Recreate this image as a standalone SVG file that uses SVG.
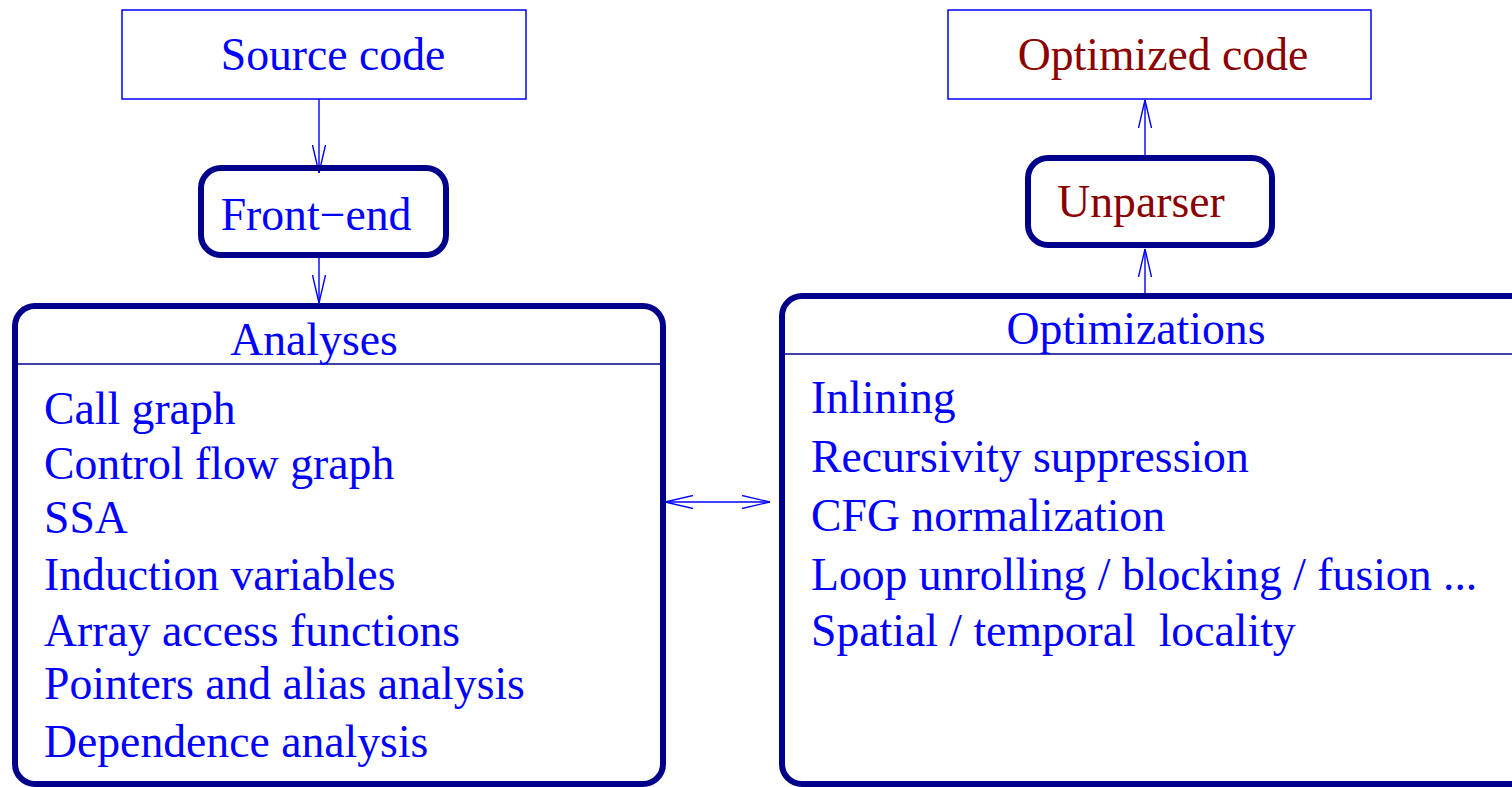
<svg xmlns="http://www.w3.org/2000/svg" width="1512" height="787" viewBox="0 0 1512 787">
<defs>
<style>
.t{font-family:"Liberation Serif","Times New Roman",serif;font-size:45.7px;fill:#0000ff;white-space:pre}
.r{fill:#8b0000}
.m{text-anchor:middle}
.thin{fill:none;stroke:#0000ff;stroke-width:1.5}
.thick{fill:none;stroke:#00008b;stroke-width:6}
.sep{stroke:#00008b;stroke-width:1.6}
.c{fill:none;stroke:#0000ff;stroke-width:1.4}
</style>
<marker id="ah" viewBox="0 0 28 14" refX="28" refY="7" markerWidth="28" markerHeight="14" markerUnits="userSpaceOnUse" orient="auto-start-reverse">
<path d="M0,0.5 L28,7 L0,13.5" fill="none" stroke="#0000ff" stroke-width="1.4"/>
</marker>
</defs>
<rect width="1512" height="787" fill="#ffffff"/>
<g id="connectors">
<line class="c" x1="319" y1="99" x2="319" y2="173" marker-end="url(#ah)"/>
<line class="c" x1="319" y1="258" x2="319" y2="303" marker-end="url(#ah)"/>
<line class="c" x1="1145" y1="293" x2="1145" y2="249" marker-end="url(#ah)"/>
<line class="c" x1="1145" y1="155" x2="1145" y2="100" marker-end="url(#ah)"/>
<line class="c" x1="665" y1="502" x2="770" y2="502" marker-start="url(#ah)" marker-end="url(#ah)"/>
</g>
<g id="source">
<rect class="thin" x="122" y="10" width="404" height="89"/>
<text class="t m" x="333" y="70">Source code</text>
</g>
<g id="frontend">
<rect class="thick" x="201" y="168" width="245" height="87" rx="20"/>
<text class="t m" x="316" y="230">Front−end</text>
</g>
<g id="analyses">
<rect class="thick" x="15" y="306" width="648" height="478" rx="20"/>
<line class="sep" x1="18" y1="364" x2="660" y2="364"/>
<text class="t m" x="314" y="355">Analyses</text>
<text class="t" x="44" y="424">Call graph</text>
<text class="t" x="44" y="479">Control flow graph</text>
<text class="t" x="44" y="533">SSA</text>
<text class="t" x="44" y="590">Induction variables</text>
<text class="t" x="44" y="646">Array access functions</text>
<text class="t" x="44" y="699">Pointers and alias analysis</text>
<text class="t" x="44" y="757">Dependence analysis</text>
</g>
<g id="optimized">
<rect class="thin" x="948" y="10" width="423" height="89"/>
<text class="t r m" x="1163" y="70">Optimized code</text>
</g>
<g id="unparser">
<rect class="thick" x="1028" y="158" width="244" height="87" rx="20"/>
<text class="t r m" x="1141" y="217">Unparser</text>
</g>
<g id="optimizations">
<rect class="thick" x="782" y="296" width="760" height="488" rx="20"/>
<line class="sep" x1="785" y1="354" x2="1512" y2="354"/>
<text class="t m" x="1136" y="344">Optimizations</text>
<text class="t" x="811" y="413">Inlining</text>
<text class="t" x="811" y="472">Recursivity suppression</text>
<text class="t" x="811" y="531">CFG normalization</text>
<text class="t" x="811" y="590">Loop unrolling / blocking / fusion ...</text>
<text class="t" x="811" y="646">Spatial / temporal  locality</text>
</g>
</svg>
